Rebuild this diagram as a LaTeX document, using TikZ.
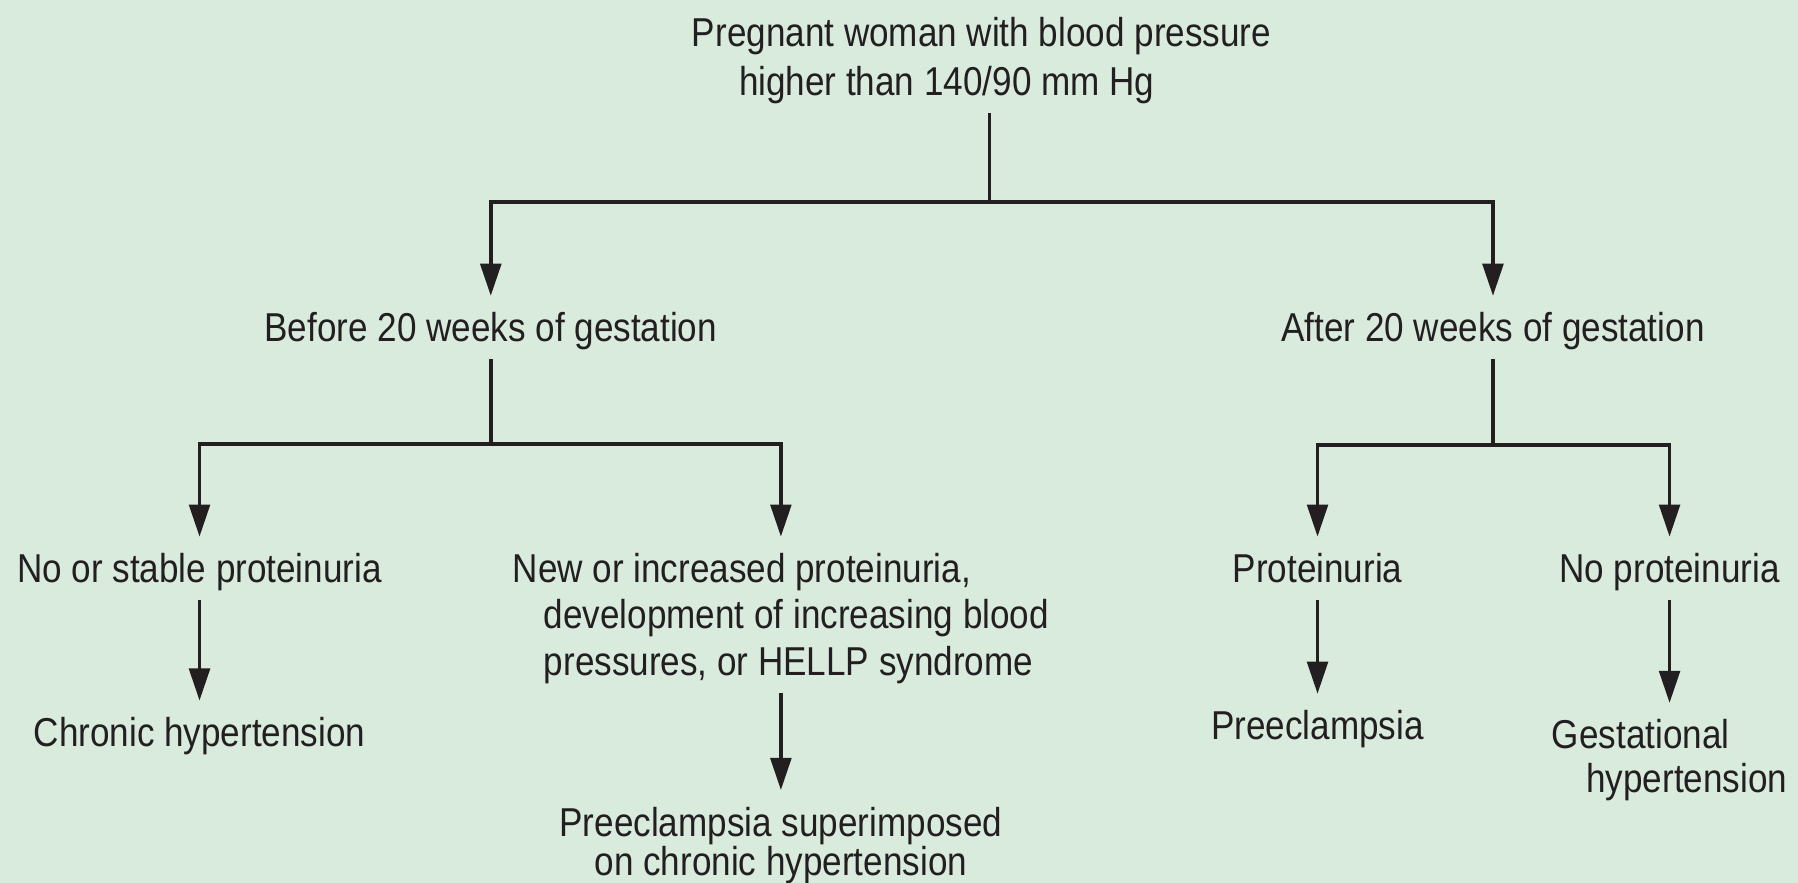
\documentclass[tikz,border=0pt]{standalone}
\usepackage{fontspec}
\setmainfont{Liberation Sans}[FakeStretch=0.87]
\definecolor{bgmint}{RGB}{216,235,221}
\definecolor{inkblk}{RGB}{35,31,32}
\usetikzlibrary{arrows.meta}

\begin{document}
\begin{tikzpicture}[x=0.01cm, y=-0.01cm,
    box/.style={anchor=north, inner xsep=2pt, inner ysep=2pt, inkblk,
                font=\fontsize{10pt}{11.5pt}\selectfont,
                text height=9.2pt, text depth=2.1pt},
    boxm/.style={anchor=north, inner xsep=2pt, inner ysep=2pt, inkblk,
                 font=\fontsize{10pt}{11.5pt}\selectfont, align=left},
    link/.style={line width=0.9pt, inkblk},
    arr/.style={link, -{Triangle[length=0.28cm, width=0.18cm]}}
  ]
    % Background
    \fill[bgmint] (0,0) rectangle (1568,770);
    \useasboundingbox (0,0) rectangle (1568,770);

    % Root
    \node[boxm] (root) at (856,7)
      {Pregnant woman with blood pressure\\[0.7pt]\hspace*{0.41cm}higher than 140/90 mm Hg};

    % Split points
    \coordinate (s1) at (863,176);
    \coordinate (s2) at (428,387);
    \coordinate (s3) at (1302,388);

    % Gestation age
    \node[box] (before) at (428,258) {Before 20 weeks of gestation};
    \node[box] (after) at (1302,258) {After 20 weeks of gestation};

    % Proteinuria
    \node[box] (nostable) at (174,468) {No or stable proteinuria};
    \node[boxm] (newinc) at (681,468)
      {\rule{0pt}{9.2pt}New or increased proteinuria,\\\hspace*{0.27cm}development of increasing blood\\\hspace*{0.27cm}pressures, or HELLP syndrome};
    \node[box] (prot) at (1149,468) {Proteinuria};
    \node[box] (noprot) at (1456,468) {No proteinuria};

    % Diagnosis
    \node[box] (chronic) at (174,611) {Chronic hypertension};
    \node[boxm, align=center] (superimp) at (681,689)
      {\rule{0pt}{9.2pt}Preeclampsia superimposed\\[-1.8pt]on chronic hypertension};
    \node[box] (preec) at (1149,605) {Preeclampsia};
    \node[boxm] (gest) at (1456,613)
      {\rule{0pt}{9.2pt}Gestational\\[-0.7pt]\hspace*{0.3cm}hypertension};

    % Connectors
    \draw[link] (root.south -| s1) -- (s1);
    \draw[arr] (s1) -| (before);
    \draw[arr] (s1) -| (after);
    \draw[link] (before) -- (s2);
    \draw[arr] (s2) -| (nostable);
    \draw[arr] (s2) -| (newinc);
    \draw[link] (after) -- (s3);
    \draw[arr] (s3) -| (prot);
    \draw[arr] (s3) -| (noprot);
    \draw[arr] (nostable) -- (chronic);
    \draw[arr] (newinc) -- (superimp);
    \draw[arr] (prot) -- (preec);
    \draw[arr] (noprot) -- (gest);
\end{tikzpicture}
\end{document}
